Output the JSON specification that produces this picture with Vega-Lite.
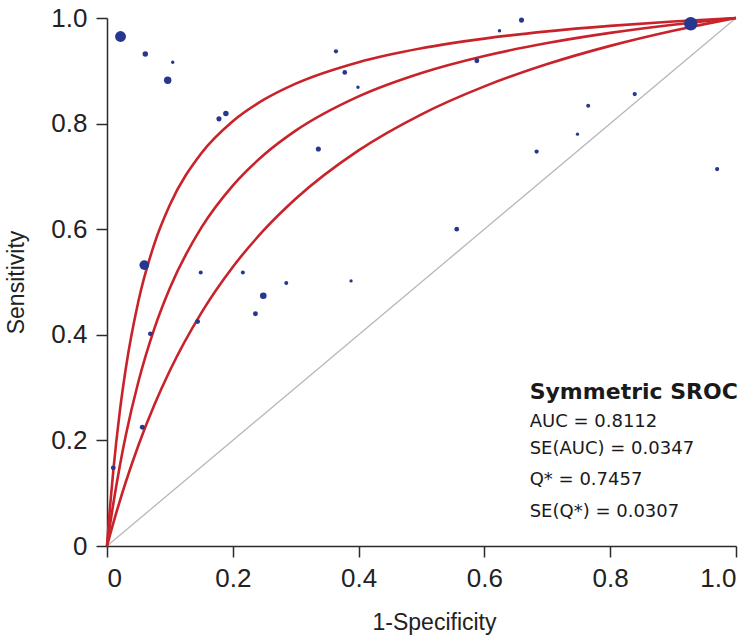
{
  "$schema": "https://vega.github.io/schema/vega-lite/v6.json",
  "autosize": {"type": "none"},
  "width": 629,
  "height": 528,
  "padding": {"left": 107, "top": 18, "right": 20, "bottom": 98},
  "background": "white",
  "config": {
    "view": {"stroke": null},
    "axis": {
      "grid": false,
      "domainColor": "#2b2b2b",
      "domainWidth": 1.5,
      "tickColor": "#2b2b2b",
      "tickWidth": 1.5,
      "tickSize": 11,
      "labelFont": "Liberation Sans",
      "labelFontSize": 26,
      "labelColor": "#222222",
      "labelPadding": 8,
      "titleFont": "Liberation Sans",
      "titleFontSize": 23,
      "titleFontWeight": "normal",
      "titleColor": "#222222"
    }
  },
  "datasets": {
    "diag": [{"fpr": 0, "sens": 0}, {"fpr": 1, "sens": 1}],
    "curves": [
      {"curve": "upper", "fpr": 0, "sens": 0},
      {"curve": "upper", "fpr": 0.001, "sens": 0.0162},
      {"curve": "upper", "fpr": 0.002, "sens": 0.0319},
      {"curve": "upper", "fpr": 0.005, "sens": 0.0763},
      {"curve": "upper", "fpr": 0.01, "sens": 0.1425},
      {"curve": "upper", "fpr": 0.02, "sens": 0.2513},
      {"curve": "upper", "fpr": 0.03, "sens": 0.3371},
      {"curve": "upper", "fpr": 0.05, "sens": 0.464},
      {"curve": "upper", "fpr": 0.075, "sens": 0.5714},
      {"curve": "upper", "fpr": 0.1, "sens": 0.6463},
      {"curve": "upper", "fpr": 0.15, "sens": 0.7437},
      {"curve": "upper", "fpr": 0.2, "sens": 0.8044},
      {"curve": "upper", "fpr": 0.25, "sens": 0.8457},
      {"curve": "upper", "fpr": 0.3, "sens": 0.8757},
      {"curve": "upper", "fpr": 0.4, "sens": 0.9164},
      {"curve": "upper", "fpr": 0.5, "sens": 0.9427},
      {"curve": "upper", "fpr": 0.6, "sens": 0.961},
      {"curve": "upper", "fpr": 0.7, "sens": 0.9746},
      {"curve": "upper", "fpr": 0.8, "sens": 0.985},
      {"curve": "upper", "fpr": 0.9, "sens": 0.9933},
      {"curve": "upper", "fpr": 0.95, "sens": 0.9968},
      {"curve": "upper", "fpr": 1, "sens": 1},
      {"curve": "mid", "fpr": 0, "sens": 0},
      {"curve": "mid", "fpr": 0.002, "sens": 0.017},
      {"curve": "mid", "fpr": 0.005, "sens": 0.0414},
      {"curve": "mid", "fpr": 0.01, "sens": 0.0799},
      {"curve": "mid", "fpr": 0.02, "sens": 0.1493},
      {"curve": "mid", "fpr": 0.03, "sens": 0.2101},
      {"curve": "mid", "fpr": 0.05, "sens": 0.3116},
      {"curve": "mid", "fpr": 0.075, "sens": 0.4109},
      {"curve": "mid", "fpr": 0.1, "sens": 0.4887},
      {"curve": "mid", "fpr": 0.15, "sens": 0.6029},
      {"curve": "mid", "fpr": 0.2, "sens": 0.6826},
      {"curve": "mid", "fpr": 0.25, "sens": 0.7414},
      {"curve": "mid", "fpr": 0.3, "sens": 0.7866},
      {"curve": "mid", "fpr": 0.4, "sens": 0.8515},
      {"curve": "mid", "fpr": 0.5, "sens": 0.8959},
      {"curve": "mid", "fpr": 0.6, "sens": 0.9281},
      {"curve": "mid", "fpr": 0.7, "sens": 0.9525},
      {"curve": "mid", "fpr": 0.8, "sens": 0.9718},
      {"curve": "mid", "fpr": 0.9, "sens": 0.9873},
      {"curve": "mid", "fpr": 0.95, "sens": 0.9939},
      {"curve": "mid", "fpr": 1, "sens": 1},
      {"curve": "lower", "fpr": 0, "sens": 0},
      {"curve": "lower", "fpr": 0.002, "sens": 0.0089},
      {"curve": "lower", "fpr": 0.005, "sens": 0.022},
      {"curve": "lower", "fpr": 0.01, "sens": 0.0433},
      {"curve": "lower", "fpr": 0.02, "sens": 0.0838},
      {"curve": "lower", "fpr": 0.03, "sens": 0.1217},
      {"curve": "lower", "fpr": 0.05, "sens": 0.1909},
      {"curve": "lower", "fpr": 0.075, "sens": 0.2665},
      {"curve": "lower", "fpr": 0.1, "sens": 0.3324},
      {"curve": "lower", "fpr": 0.15, "sens": 0.4416},
      {"curve": "lower", "fpr": 0.2, "sens": 0.5284},
      {"curve": "lower", "fpr": 0.25, "sens": 0.599},
      {"curve": "lower", "fpr": 0.3, "sens": 0.6576},
      {"curve": "lower", "fpr": 0.4, "sens": 0.7492},
      {"curve": "lower", "fpr": 0.5, "sens": 0.8176},
      {"curve": "lower", "fpr": 0.6, "sens": 0.8705},
      {"curve": "lower", "fpr": 0.7, "sens": 0.9127},
      {"curve": "lower", "fpr": 0.8, "sens": 0.9472},
      {"curve": "lower", "fpr": 0.9, "sens": 0.9758},
      {"curve": "lower", "fpr": 0.95, "sens": 0.9884},
      {"curve": "lower", "fpr": 1, "sens": 1}
    ],
    "studies": [
      {"fpr": 0.0215, "sens": 0.965, "w": 118},
      {"fpr": 0.0609, "sens": 0.932, "w": 30},
      {"fpr": 0.1045, "sens": 0.916, "w": 12},
      {"fpr": 0.0965, "sens": 0.882, "w": 55},
      {"fpr": 0.178, "sens": 0.809, "w": 26},
      {"fpr": 0.189, "sens": 0.819, "w": 30},
      {"fpr": 0.364, "sens": 0.937, "w": 18},
      {"fpr": 0.378, "sens": 0.897, "w": 22},
      {"fpr": 0.399, "sens": 0.869, "w": 12},
      {"fpr": 0.336, "sens": 0.752, "w": 26},
      {"fpr": 0.624, "sens": 0.976, "w": 12},
      {"fpr": 0.659, "sens": 0.996, "w": 26},
      {"fpr": 0.588, "sens": 0.919, "w": 24},
      {"fpr": 0.928, "sens": 0.989, "w": 180},
      {"fpr": 0.765, "sens": 0.834, "w": 16},
      {"fpr": 0.748, "sens": 0.78, "w": 11},
      {"fpr": 0.839, "sens": 0.856, "w": 18},
      {"fpr": 0.683, "sens": 0.747, "w": 18},
      {"fpr": 0.97, "sens": 0.714, "w": 18},
      {"fpr": 0.556, "sens": 0.6, "w": 22},
      {"fpr": 0.0593, "sens": 0.532, "w": 95},
      {"fpr": 0.149, "sens": 0.518, "w": 16},
      {"fpr": 0.216, "sens": 0.518, "w": 16},
      {"fpr": 0.285, "sens": 0.498, "w": 16},
      {"fpr": 0.388, "sens": 0.502, "w": 11},
      {"fpr": 0.2485, "sens": 0.474, "w": 44},
      {"fpr": 0.236, "sens": 0.44, "w": 24},
      {"fpr": 0.144, "sens": 0.425, "w": 24},
      {"fpr": 0.0688, "sens": 0.402, "w": 21},
      {"fpr": 0.0561, "sens": 0.225, "w": 24},
      {"fpr": 0.01, "sens": 0.148, "w": 24}
    ],
    "heading": [{"fpr": 0.672, "sens": 0.291, "label": "Symmetric SROC"}],
    "stats": [
      {"fpr": 0.672, "sens": 0.235, "label": "AUC = 0.8112"},
      {"fpr": 0.672, "sens": 0.183, "label": "SE(AUC) = 0.0347"},
      {"fpr": 0.672, "sens": 0.125, "label": "Q* = 0.7457"},
      {"fpr": 0.672, "sens": 0.065, "label": "SE(Q*) = 0.0307"}
    ]
  },
  "encoding": {
    "x": {
      "field": "fpr",
      "type": "quantitative",
      "scale": {"domain": [0, 1], "nice": false, "zero": true},
      "axis": {
        "title": "1-Specificity",
        "values": [0, 0.2, 0.4, 0.6, 0.8, 1],
        "labelExpr": "datum.value === 0 ? '0' : format(datum.value, '.1f')",
        "titlePadding": 20,
        "titleX": 327
      }
    },
    "y": {
      "field": "sens",
      "type": "quantitative",
      "scale": {"domain": [0, 1], "nice": false, "zero": true},
      "axis": {
        "title": "Sensitivity",
        "values": [0, 0.2, 0.4, 0.6, 0.8, 1],
        "labelExpr": "datum.value === 0 ? '0' : format(datum.value, '.1f')",
        "labelPadding": 9,
        "titlePadding": 22
      }
    }
  },
  "layer": [
    {
      "data": {"name": "diag"},
      "mark": {"type": "line", "color": "#b8b8b8", "strokeWidth": 1.3},
      "encoding": {}
    },
    {
      "data": {"name": "curves"},
      "mark": {"type": "line", "color": "#c8232b", "strokeWidth": 2.6, "interpolate": "monotone"},
      "encoding": {"detail": {"field": "curve", "type": "nominal"}}
    },
    {
      "data": {"name": "studies"},
      "mark": {"type": "circle", "color": "#26378f", "opacity": 1},
      "encoding": {
        "size": {"field": "w", "type": "quantitative", "scale": {"type": "linear", "domain": [0, 200], "range": [0, 200]}, "legend": null}
      }
    },
    {
      "data": {"name": "heading"},
      "mark": {"type": "text", "align": "left", "baseline": "middle", "font": "DejaVu Sans", "fontSize": 22, "fontWeight": "bold", "color": "#1a1a1a"},
      "encoding": {"text": {"field": "label"}}
    },
    {
      "data": {"name": "stats"},
      "mark": {"type": "text", "align": "left", "baseline": "middle", "font": "DejaVu Sans", "fontSize": 18, "color": "#1a1a1a"},
      "encoding": {"text": {"field": "label"}}
    }
  ]
}
